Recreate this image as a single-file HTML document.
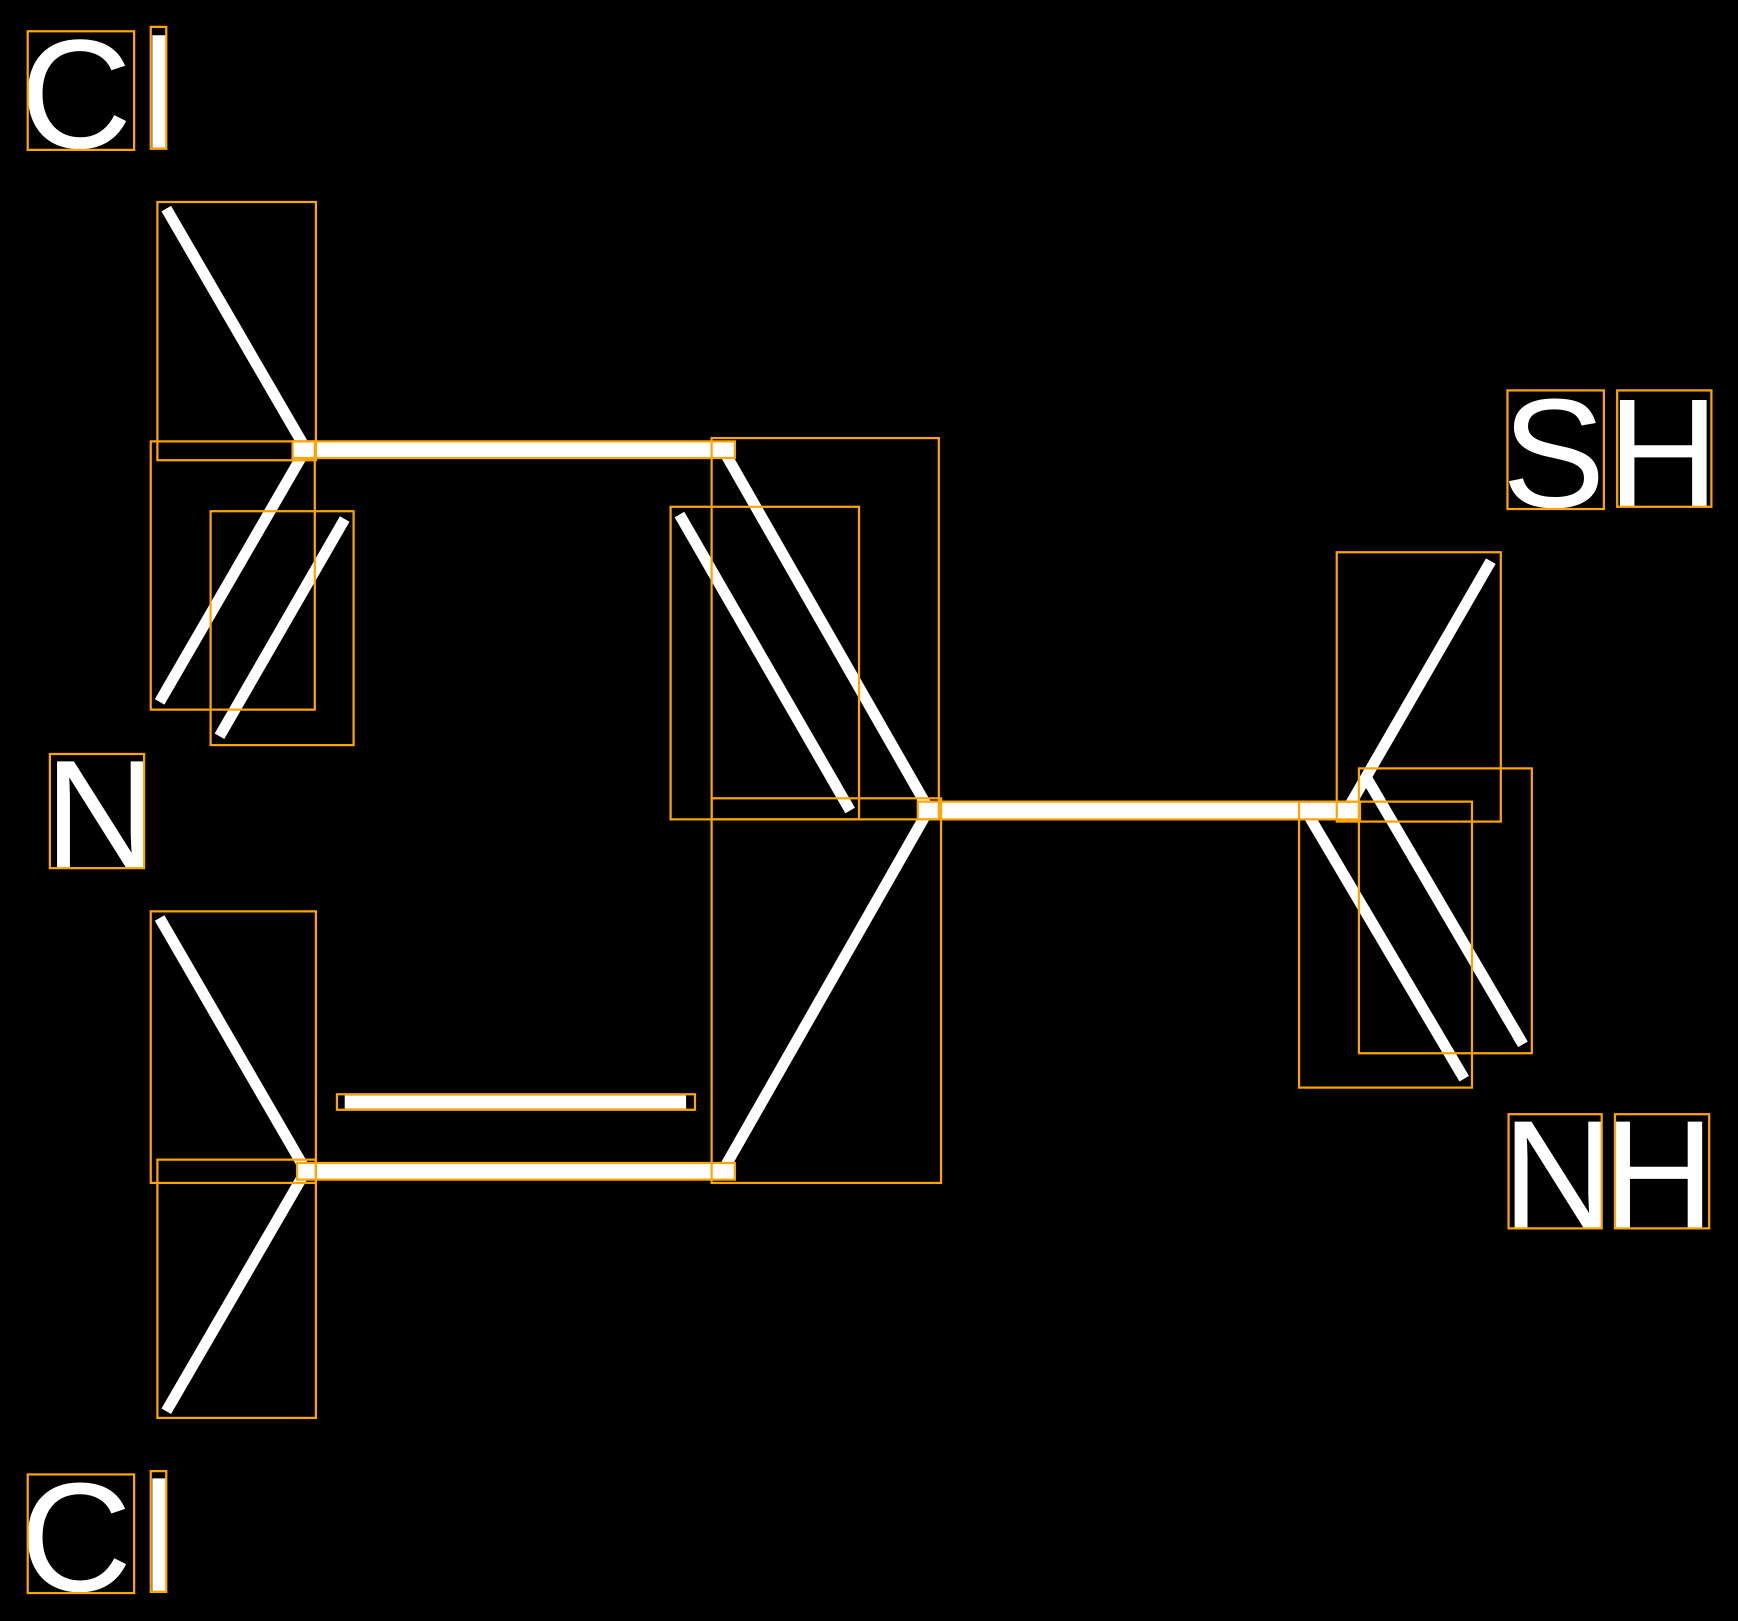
<!DOCTYPE html>
<html><head><meta charset="utf-8"><style>
html,body{margin:0;padding:0;background:#000;}
svg{display:block;}
</style></head><body>
<svg width="1738" height="1621" viewBox="0 0 1568 1462" xmlns="http://www.w3.org/2000/svg">
<rect width="1568" height="1462" fill="#000"/>
<g stroke="#fff" stroke-width="10" fill="none">
<line x1="150" y1="188" x2="276" y2="405"/>
<line x1="276" y1="405" x2="144" y2="633"/>
<line x1="311" y1="468" x2="198" y2="664"/>
<line x1="652" y1="405" x2="838" y2="730"/>
<line x1="613" y1="464" x2="767" y2="731"/>
<line x1="838" y1="730" x2="652" y2="1056"/>
<line x1="1345" y1="506" x2="1215" y2="731"/>
<line x1="1232" y1="700" x2="1374" y2="942"/>
<line x1="1178" y1="731" x2="1321" y2="973"/>
<line x1="144" y1="828" x2="276" y2="1056"/>
<line x1="276" y1="1056" x2="150" y2="1273"/>
</g>
<g fill="#fff">
<rect x="264" y="398" width="399" height="15"/>
<rect x="828" y="723" width="399" height="16"/>
<rect x="268" y="1049" width="395" height="15"/>
<rect x="311" y="988" width="308" height="12"/>
</g>
<g font-family="Liberation Sans, sans-serif" font-size="140" fill="#fff">
<text x="18" y="133">C</text>
<text x="128" y="133">l</text>
<text x="18" y="1435">C</text>
<text x="128" y="1435">l</text>
<text x="40" y="783">N</text>
<text x="1355" y="457">S</text>
<text x="1450" y="457">H</text>
<text x="1355" y="1108">N</text>
<text x="1446" y="1108">H</text>
</g>
<g stroke="#ffa500" stroke-width="2" fill="none">
<rect x="25" y="28" width="96" height="107"/>
<rect x="136" y="24" width="14" height="110"/>
<rect x="25" y="1330" width="96" height="107"/>
<rect x="136" y="1327" width="14" height="109"/>
<rect x="45" y="680" width="85" height="103"/>
<rect x="1360" y="352" width="87" height="107"/>
<rect x="1459" y="352" width="85" height="105"/>
<rect x="1361" y="1005" width="84" height="103"/>
<rect x="1457" y="1005" width="85" height="103"/>
<rect x="142" y="182" width="143" height="233"/>
<rect x="136" y="398" width="148" height="242"/>
<rect x="190" y="461" width="129" height="211"/>
<rect x="642" y="395" width="205" height="344"/>
<rect x="605" y="457" width="170" height="282"/>
<rect x="642" y="720" width="207" height="347"/>
<rect x="1206" y="498" width="148" height="243"/>
<rect x="1226" y="693" width="156" height="257"/>
<rect x="1172" y="723" width="156" height="258"/>
<rect x="136" y="822" width="149" height="245"/>
<rect x="142" y="1046" width="143" height="233"/>
<rect x="264" y="398" width="399" height="15"/>
<rect x="828" y="723" width="399" height="16"/>
<rect x="268" y="1049" width="395" height="15"/>
<rect x="304" y="987" width="323" height="14"/>
</g>
</svg>
</body></html>
